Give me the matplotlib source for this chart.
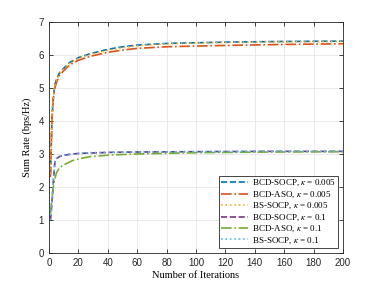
import matplotlib
matplotlib.use('Agg')
import matplotlib.pyplot as plt

iters_hi = [1, 2, 3, 4, 5, 7, 10, 14, 20, 28, 40, 50, 60, 80, 120, 160, 200]
bcd_socp_hi = [2.4, 4.1, 4.75, 5.1, 5.25, 5.45, 5.6, 5.77, 5.92, 6.04, 6.17, 6.25, 6.3, 6.35, 6.39, 6.41, 6.42]
bcd_aso_hi = [2.3, 4.0, 4.7, 5.0, 5.15, 5.38, 5.52, 5.7, 5.84, 5.96, 6.08, 6.15, 6.2, 6.25, 6.29, 6.32, 6.34]
bs_socp_hi = [2.4, 4.1, 4.75, 5.08, 5.22, 5.42, 5.58, 5.74, 5.9, 6.02, 6.14, 6.22, 6.28, 6.34, 6.38, 6.4, 6.41]

iters_lo = [1, 2, 3, 4, 5, 7, 10, 16, 21, 28, 42, 60, 100, 150, 200]
bcd_socp_lo = [1.0, 1.5, 2.2, 2.75, 2.85, 2.92, 2.96, 3.0, 3.02, 3.03, 3.05, 3.06, 3.07, 3.08, 3.08]
bcd_aso_lo = [1.2, 1.65, 2.0, 2.25, 2.42, 2.58, 2.67, 2.8, 2.86, 2.92, 2.97, 3.0, 3.04, 3.06, 3.07]
bs_socp_lo = [1.0, 1.55, 2.25, 2.78, 2.87, 2.93, 2.97, 3.0, 3.02, 3.04, 3.05, 3.06, 3.07, 3.08, 3.08]

labels = ['BCD-SOCP, $\\kappa$ = 0.005', 'BCD-ASO, $\\kappa$ = 0.005', 'BS-SOCP, $\\kappa$ = 0.005',
          'BCD-SOCP, $\\kappa$ = 0.1', 'BCD-ASO, $\\kappa$ = 0.1', 'BS-SOCP, $\\kappa$ = 0.1']
colors = ['#0072BD', '#D95319', '#EDB120', '#7E2F8E', '#77AC30', '#4DBEEE']
styles = ['--', '-.', ':', '--', '-.', ':']

plt.rcParams['mathtext.fontset'] = 'stix'

fig = plt.figure(figsize=(3.79, 2.85), dpi=100)
ax = fig.add_axes([49/379, 1 - 253/285, 294/379, 231/285])

series = [(iters_hi, bcd_socp_hi), (iters_hi, bcd_aso_hi), (iters_hi, bs_socp_hi),
          (iters_lo, bcd_socp_lo), (iters_lo, bcd_aso_lo), (iters_lo, bs_socp_lo)]
for (x, y), c, ls, lab in zip(series, colors, styles, labels):
    ax.plot(x, y, color=c, linestyle=ls, linewidth=1.2, label=lab)

ax.set_xlim(0, 200)
ax.set_ylim(0, 7)
ax.set_xticks(range(0, 201, 20))
ax.set_yticks(range(0, 8))
ax.grid(True, color='#e6e6e6', linewidth=0.6)
ax.set_axisbelow(True)
ax.tick_params(direction='in', length=3, width=0.6, labelsize=7, colors='#262626',
               top=True, right=True)
for lab in ax.get_xticklabels() + ax.get_yticklabels():
    lab.set_family('Liberation Sans')
for s in ax.spines.values():
    s.set_linewidth(0.6)
    s.set_color('#262626')

ax.set_xlabel('Number of Iterations', family='Liberation Serif', fontsize=7.5, labelpad=2)
ax.set_ylabel('Sum Rate (bps/Hz)', family='Liberation Serif', fontsize=7.5, labelpad=5)

leg = ax.legend(loc='lower right', prop={'family': 'Liberation Serif', 'size': 6.5},
                frameon=True, fancybox=False, edgecolor='#262626', framealpha=1,
                handlelength=3.0, handletextpad=0.4, labelspacing=0.12,
                borderpad=0.2, borderaxespad=0.6)
leg.get_frame().set_linewidth(0.6)

plt.savefig('out.png', dpi=100)
